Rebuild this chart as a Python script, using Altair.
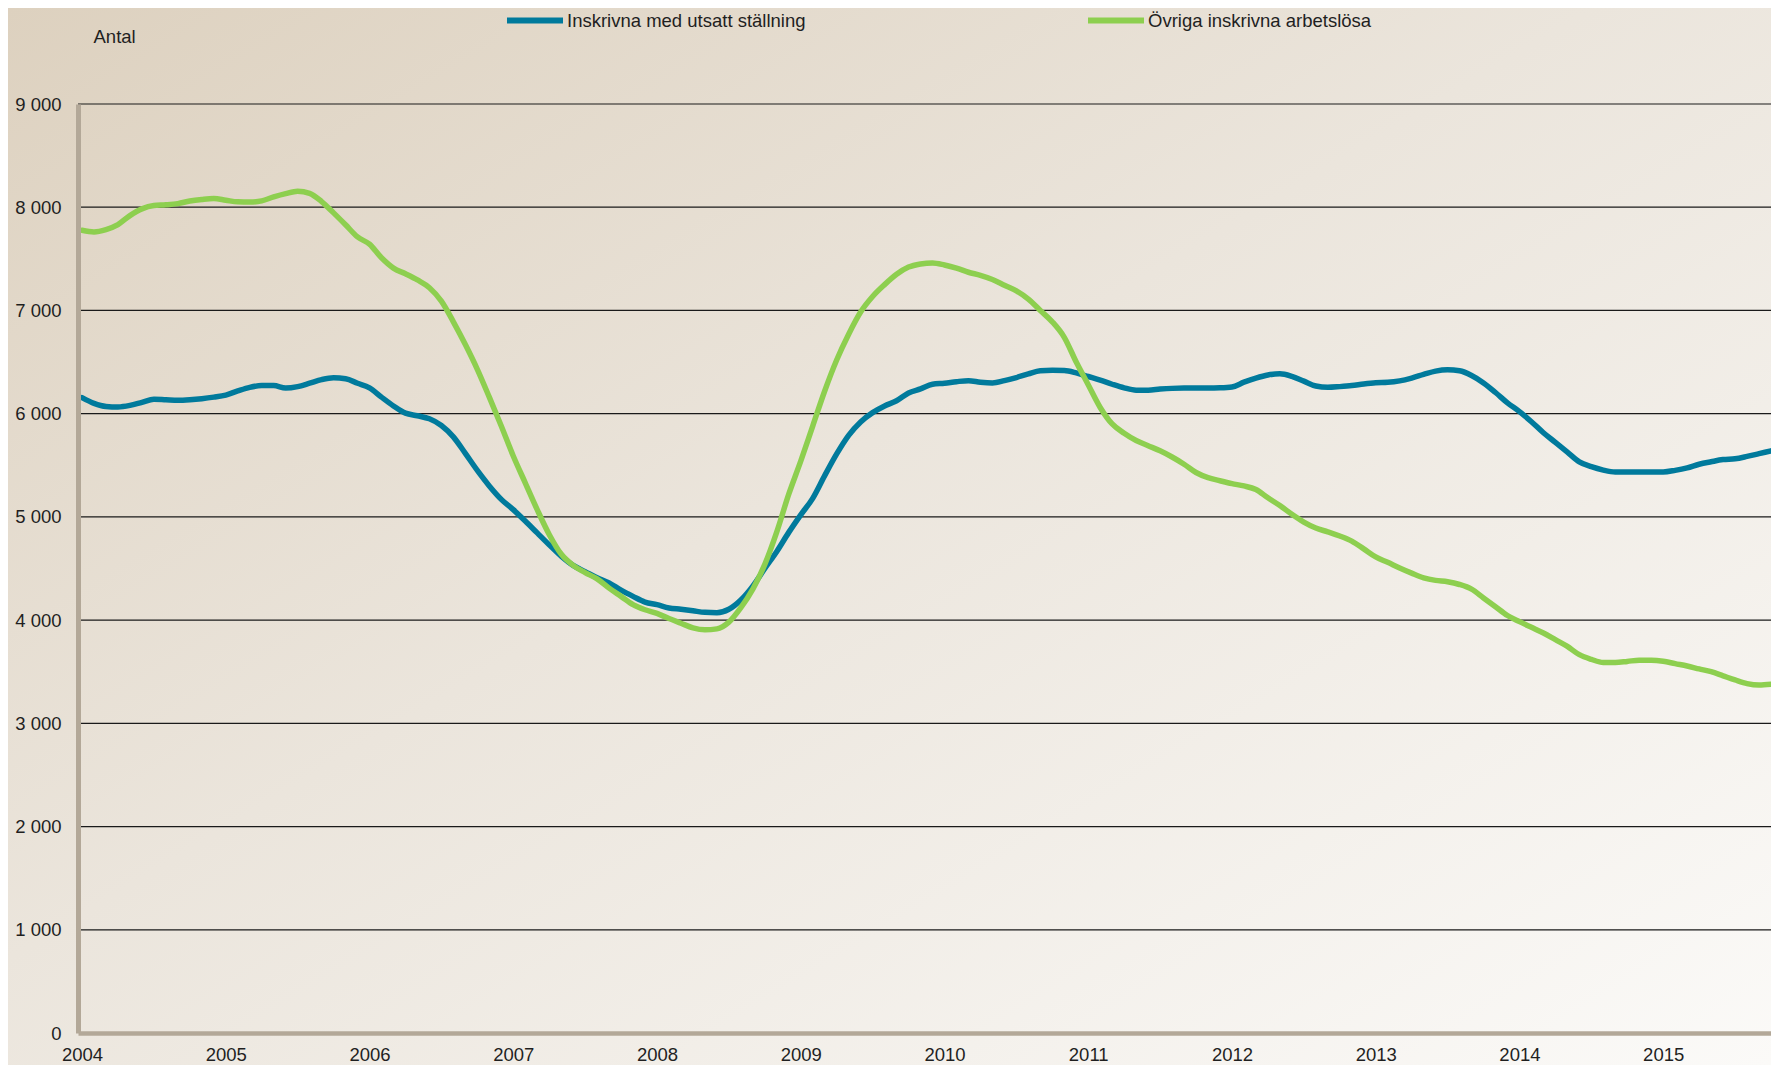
import altair as alt
import pandas as pd

# ---- data (monthly, Jan 2004 - Oct 2015) ----
series_names = ["Inskrivna med utsatt ställning", "Övriga inskrivna arbetslösa"]
series_colors = ["#007a9c", "#8dcf4f"]

blue_vals = [
    6155, 6100, 6070, 6065, 6080, 6110, 6140, 6135, 6130, 6135, 6145, 6160,  # 2004
    6180, 6220, 6255, 6272, 6272, 6248, 6262, 6295, 6330, 6348, 6338, 6295,  # 2005
    6250, 6160, 6075, 6005, 5980, 5950, 5885, 5775, 5615, 5450, 5300, 5170,  # 2006
    5070, 4960, 4845, 4730, 4620, 4530, 4470, 4410, 4360, 4290, 4230, 4175,  # 2007
    4150, 4118, 4105, 4090, 4075, 4072, 4105, 4195, 4330, 4500, 4665, 4850,  # 2008
    5020, 5180, 5400, 5610, 5790, 5920, 6010, 6075, 6125, 6200, 6240, 6285,  # 2009
    6295, 6310, 6320, 6305, 6298, 6320, 6350, 6385, 6415, 6420, 6418, 6395,  # 2010
    6360, 6325, 6285, 6250, 6228, 6228, 6238, 6245, 6248, 6248, 6248, 6250,  # 2011
    6258, 6305, 6345, 6375, 6387, 6362, 6315, 6268, 6255, 6262, 6272, 6288,  # 2012
    6300, 6304, 6318, 6345, 6380, 6412, 6425, 6415, 6370, 6298, 6205, 6105,  # 2013
    6020, 5922, 5815, 5722, 5628, 5533, 5486, 5453, 5435, 5435, 5435, 5435,  # 2014
    5435, 5451, 5475, 5510, 5534, 5555, 5563, 5586, 5613, 5640,              # 2015
]
green_vals = [
    7777, 7761, 7784, 7832, 7919, 7984, 8016, 8023, 8035, 8060, 8075, 8084,  # 2004
    8068, 8052, 8050, 8062, 8100, 8132, 8155, 8135, 8055, 7945, 7830, 7712,  # 2005
    7642, 7510, 7410, 7355, 7295, 7220, 7090, 6890, 6670, 6430, 6160, 5880,  # 2006
    5590, 5330, 5070, 4830, 4640, 4530, 4460, 4400, 4310, 4230, 4150, 4100,  # 2007
    4065, 4015, 3970, 3925, 3906, 3915, 3980, 4120, 4300, 4540, 4855, 5220,  # 2008
    5540, 5880, 6220, 6520, 6770, 6985, 7135, 7250, 7350, 7420, 7450, 7460,  # 2009
    7440, 7410, 7370, 7340, 7300, 7245, 7190, 7110, 7000, 6890, 6740, 6500,  # 2010
    6280, 6060, 5900, 5810, 5740, 5690, 5640, 5580, 5510, 5430, 5380, 5350,  # 2011
    5322, 5300, 5265, 5185, 5110, 5025, 4950, 4892, 4855, 4815, 4765, 4690,  # 2012
    4612, 4560, 4505, 4455, 4410, 4385, 4372, 4345, 4300, 4215, 4130, 4045,  # 2013
    3985, 3930, 3875, 3810, 3745, 3665, 3620, 3590, 3590, 3600, 3612, 3612,  # 2014
    3602, 3578, 3555, 3527, 3500, 3460, 3420, 3385, 3371, 3378,              # 2015
]
x_years = list(range(2004, 2016))
y_ticks = [0, 1000, 2000, 3000, 4000, 5000, 6000, 7000, 8000, 9000]
grid_values = y_ticks[1:]

n = len(blue_vals)
t = [2004 + i / 12 for i in range(n)]
df = pd.DataFrame({
    "t": t + t,
    "value": blue_vals + green_vals,
    "serie": [series_names[0]] * n + [series_names[1]] * n,
})

FONT = "Liberation Sans, Arial, Helvetica, sans-serif"
TXT = "#1f1f1f"
W, H = 1693, 929
PL, PT, PR, PB = 70, 96, 0, 32

x_scale = alt.Scale(domain=[2003.972, 2015.75], nice=False, zero=False)
y_scale = alt.Scale(domain=[0, 9000], nice=False)

y_axis = alt.Axis(
    values=y_ticks, labelExpr="replace(format(datum.value, ',d'), ',', ' ')",
    grid=False, ticks=False, domainColor="#b3a898", domainWidth=5,
    labelFontSize=18.5, labelColor=TXT, labelFont=FONT, labelPadding=17,
    labelBaseline="middle",
    title="Antal", titleAngle=0, titleX=15, titleY=-68, titleAlign="left",
    titleBaseline="middle", titleFontWeight="normal", titleFontSize=18.5,
    titleColor=TXT, titleFont=FONT, zindex=1,
)
x_axis = alt.Axis(
    values=x_years, format="d", grid=False, ticks=False,
    domainColor="#b3a898", domainWidth=4.5,
    labelFontSize=18.5, labelColor=TXT, labelFont=FONT,
    labelPadding=12, labelFlush=False, labelOverlap=False,
    title=None, zindex=1,
)

bg = alt.Chart(pd.DataFrame({"k": [0]})).mark_rect(
    fill={
        "gradient": "linear", "x1": 0, "y1": 0, "x2": 1, "y2": 1,
        "stops": [
            {"offset": 0, "color": "#ddd1bf"},
            {"offset": 0.45, "color": "#ebe5dc"},
            {"offset": 1, "color": "#fbfaf8"},
        ],
    }
).encode(
    x=alt.value(-PL), x2=alt.value(W + PR),
    y=alt.value(-PT), y2=alt.value(H + PB),
)

grid = alt.Chart(pd.DataFrame({"v": grid_values})).mark_rule(
    color="#1a1a1a", strokeWidth=1.2
).encode(y=alt.Y("v:Q", scale=y_scale, axis=y_axis))

lines = alt.Chart(df).mark_line(
    strokeWidth=5.5, interpolate="monotone", strokeCap="round", strokeJoin="round"
).encode(
    x=alt.X("t:Q", scale=x_scale, axis=x_axis),
    y=alt.Y("value:Q", scale=y_scale, axis=y_axis),
    color=alt.Color("serie:N", scale=alt.Scale(domain=series_names, range=series_colors),
                    legend=alt.Legend(
                        orient="none", legendX=426, legendY=-114.5, direction="horizontal",
                        title=None, symbolType="stroke", symbolSize=3136,
                        symbolStrokeWidth=6, labelFontSize=18.5, labelFont=FONT,
                        labelColor=TXT, labelOffset=1, columnPadding=270,
                        labelLimit=0, padding=0,
                    )),
)

chart = alt.layer(bg, grid, lines).properties(
    width=W, height=H,
    autosize=alt.AutoSizeParams(type="none"),
    padding={"left": PL, "top": PT, "right": PR, "bottom": PB},
    background="#efeae3",
).configure_view(stroke=None).configure(font=FONT)

chart.save("out.html", embed_options={"renderer": "svg", "actions": False})
